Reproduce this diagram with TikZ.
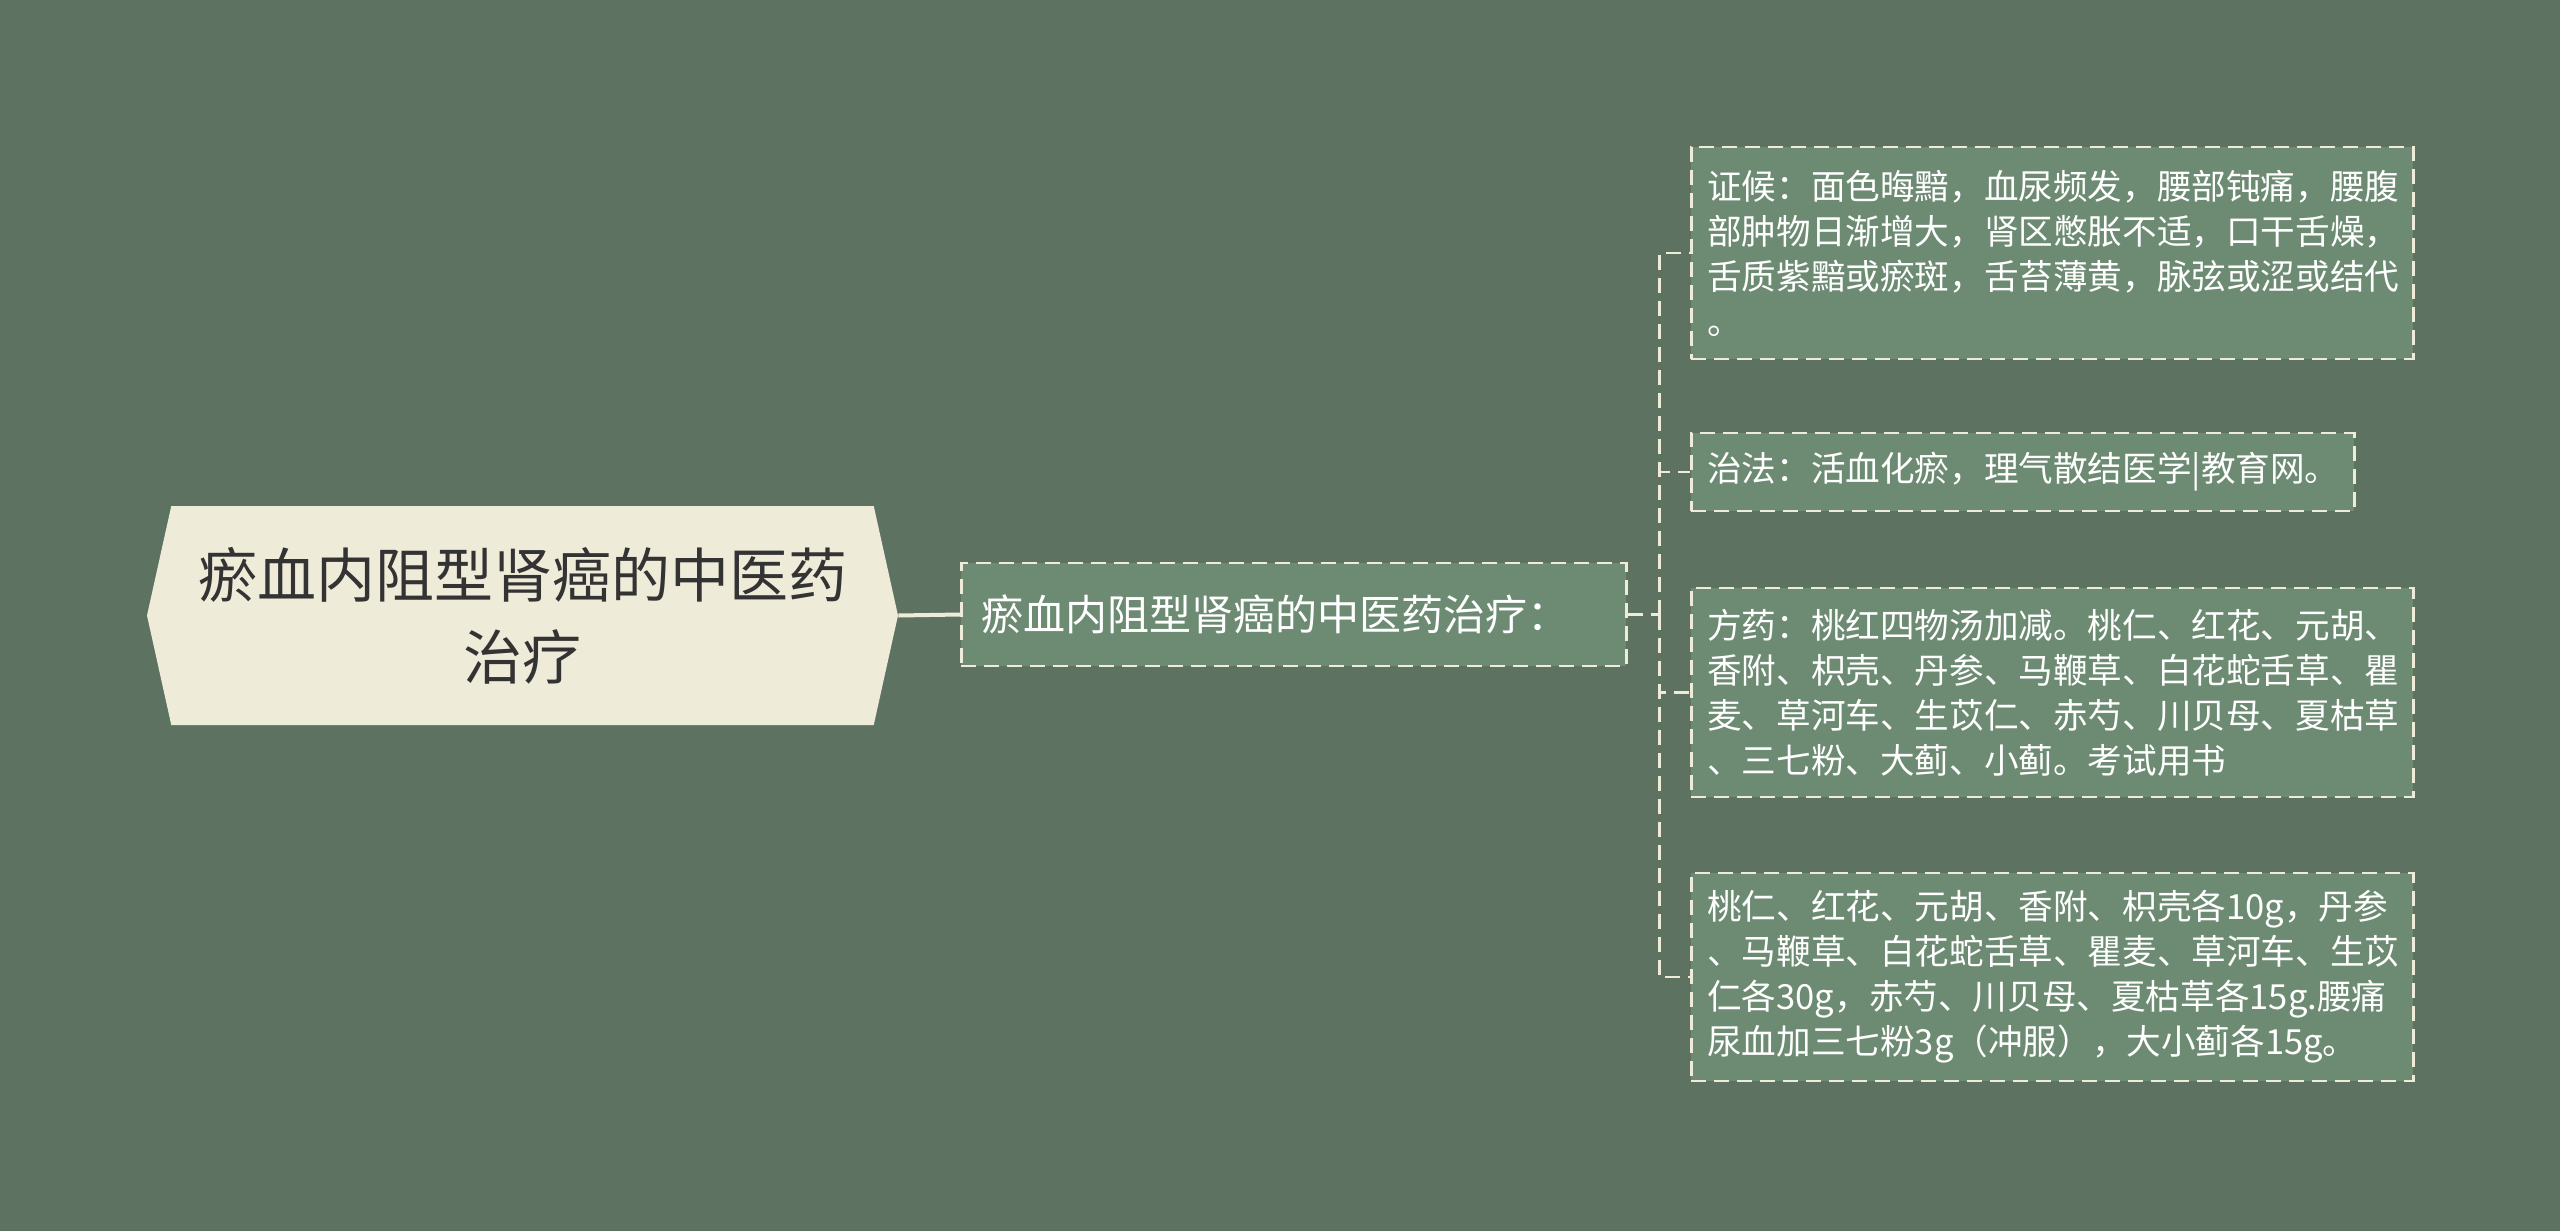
\documentclass[tikz,border=0pt]{standalone}
\usepackage{fontspec}
\setmainfont{Noto Sans CJK SC}
\usetikzlibrary{positioning,calc,shapes.symbols}
\definecolor{bgcol}{HTML}{5E7262}
\definecolor{nodecol}{HTML}{6D8B73}
\definecolor{creamcol}{HTML}{EFEBD9}
\definecolor{darkcol}{HTML}{333333}
\tikzset{font=\fontsize{17.3}{22.5}\selectfont}

\begin{document}
\begin{tikzpicture}[x=1pt, y=-1pt,
	rootnode/.style={shape=signal, signal to=west and east, signal pointer angle=155,
		fill=creamcol, text=darkcol, align=center, inner sep=0pt,
		minimum width=375.5pt, minimum height=109.5pt,
		font=\fontsize{29.5}{41}\selectfont},
	dashbox/.style={draw=creamcol, fill=nodecol, text=white, line width=1.3pt,
		dash pattern=on 7.5pt off 4pt, anchor=west, align=left, inner ysep=0pt},
	subnode/.style={dashbox, inner xsep=10pt, text width=312.5pt,
		minimum height=51.5pt, font=\fontsize{21}{26}\selectfont},
	leafnode/.style={dashbox, inner xsep=8pt},
	link/.style={draw=creamcol, line width=1.3pt, dash pattern=on 7.5pt off 4pt},
	rootlink/.style={draw=creamcol, line width=2pt}]
	\fill[bgcol] (0,0) rectangle (1280,615.5);
	\useasboundingbox (0,0) rectangle (1280,615.5);

	\node[rootnode] (root) at (261.25, 307.75) {瘀血内阻型肾癌的中医药\\治疗};
	\node[subnode] (sub) at (480, 307.25) {瘀血内阻型肾癌的中医药治疗：};

	\node[leafnode, text width=345pt, minimum height=106pt] (l1) at (845, 126.5)
		{证候：面色晦黯，血尿频发，腰部钝痛，腰腹\\部肿物日渐增大，肾区憋胀不适，口干舌燥，\\舌质紫黯或瘀斑，舌苔薄黄，脉弦或涩或结代\\。};
	\node[leafnode, text width=315.5pt, minimum height=39pt] (l2) at (845, 236)
		{治法：活血化瘀，理气散结医学|教育网。};
	\node[leafnode, text width=345pt, minimum height=104.5pt] (l3) at (845, 346.25)
		{方药：桃红四物汤加减。桃仁、红花、元胡、\\香附、枳壳、丹参、马鞭草、白花蛇舌草、瞿\\麦、草河车、生苡仁、赤芍、川贝母、夏枯草\\、三七粉、大蓟、小蓟。考试用书};
	\node[leafnode, text width=345pt, minimum height=104pt] (l4) at (845, 488.5)
		{桃仁、红花、元胡、香附、枳壳各10g，丹参\\、马鞭草、白花蛇舌草、瞿麦、草河车、生苡\\仁各30g，赤芍、川贝母、夏枯草各15g.腰痛\\尿血加三七粉3g（冲服），大小蓟各15g。};

	\coordinate (fork) at ([xshift=16pt]sub.east);

	\draw[rootlink] (root.east) -- (sub.west);
	\draw[link] (sub.east) -- (fork);
	\foreach \n in {l1,l2,l3,l4}
		\draw[link] (fork) |- (\n.west);
\end{tikzpicture}
\end{document}
